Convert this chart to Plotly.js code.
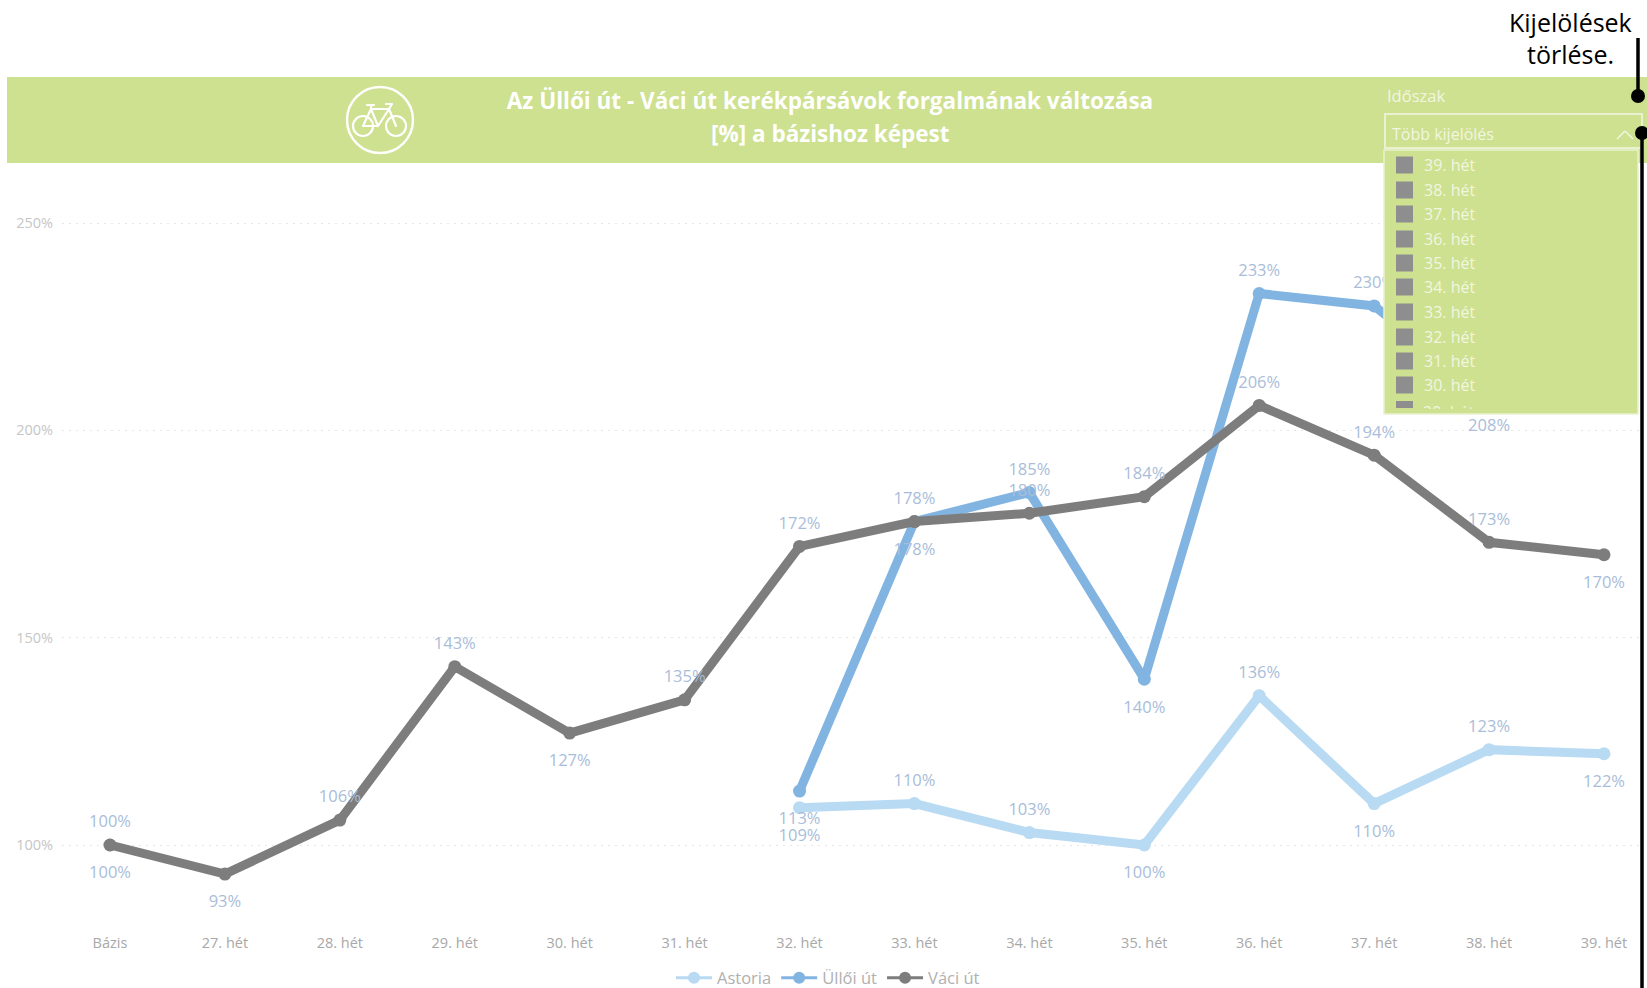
<!DOCTYPE html>
<html><head><meta charset="utf-8">
<script src="https://cdn.plot.ly/plotly-3.0.1.min.js"></script>
<style>html,body{margin:0;padding:0;background:#fff}#c{width:1647px;height:988px}</style>
</head><body><div id="c"></div>
<script>
const categories = ['Bázis','27. hét','28. hét','29. hét','30. hét','31. hét','32. hét','33. hét','34. hét','35. hét','36. hét','37. hét','38. hét','39. hét'];
const astoria = [100,null,null,null,null,null,109,110,103,100,136,110,123,122];
const ulloi   = [null,null,null,null,null,null,113,178,185,140,233,230,208,null];
const vaci    = [100,93,106,143,127,135,172,178,180,184,206,194,173,170];
const astoriaPos = ['b','','','','','','b','t','t','b','t','b','t','b'];
const ulloiPos   = ['','','','','','','b','t','t','b','t','t','b',''];
const vaciPos    = ['t','b','t','t','b','t','t','b','t','t','t','t','t','b'];
const weeks = ['39. hét','38. hét','37. hét','36. hét','35. hét','34. hét','33. hét','32. hét','31. hét','30. hét'];
const weekCenters = [165,190,214,239,263,287,312,337,361,385];

const W=1647,H=988,L=62,R=7,T=180,B=63;
const X=p=>(p-L)/(W-L-R), Y=p=>1-(p-T)/(H-T-B);
const pxPerCat=(1604-110)/13, pxPerPct=(845-223)/150;
const xRange=[(L-110)/pxPerCat,(W-R-110)/pxPerCat];
const yRange=[100-((H-B)-845)/pxPerPct,250+(223-T)/pxPerPct];

const FONT='"Open Sans", sans-serif';
const GREEN='#cde190', LBL='#a9bdd9', PANELTXT='#f2f6e0';
const colors={a:'#b8daf3',u:'#82b4e2',v:'#7d7d7d'};

function lineTrace(name,ys,c){return {type:'scatter',mode:'lines+markers',name,x:categories,y:ys,showlegend:false,
  line:{color:c,width:9},marker:{color:c,size:13},connectgaps:false,hoverinfo:'skip'};}
function legendTrace(name,c){return {type:'scatter',mode:'lines+markers',name,x:categories,y:categories.map(()=>null),
  line:{color:c,width:3},marker:{color:c,size:12},hoverinfo:'skip'};}
function labelTrace(ys,pos){
  const xs=[],yy=[],tx=[],tp=[],sz=[];
  ys.forEach((v,i)=>{ if(v!==null&&pos[i]){xs.push(categories[i]);yy.push(v);tx.push(v+'%');
    tp.push(pos[i]==='t'?'top center':'bottom center');sz.push(pos[i]==='t'?20:32);}});
  return {type:'scatter',mode:'markers+text',x:xs,y:yy,text:tx,textposition:tp,showlegend:false,hoverinfo:'skip',
    marker:{size:sz,opacity:0},textfont:{family:FONT,size:16.5,color:LBL},cliponaxis:false};
}
const data=[legendTrace('Astoria',colors.a),legendTrace('Üllői út',colors.u),legendTrace('Váci út',colors.v),
  lineTrace('Astoria',astoria,colors.a),lineTrace('Üllői út',ulloi,colors.u),lineTrace('Váci út',vaci,colors.v),
  labelTrace(astoria,astoriaPos),labelTrace(ulloi,ulloiPos),labelTrace(vaci,vaciPos)];

function rect(x0,y0,x1,y1,fill,line,w,layer){return {type:'rect',layer:layer||'above',xref:'paper',yref:'paper',x0:X(x0),x1:X(x1),y0:Y(y0),y1:Y(y1),
  fillcolor:fill,line:{color:line||'rgba(0,0,0,0)',width:w||0}};}
function seg(x0,y0,x1,y1,c,w){return {type:'line',layer:'above',xref:'paper',yref:'paper',x0:X(x0),x1:X(x1),y0:Y(y0),y1:Y(y1),line:{color:c,width:w}};}
function dot(cx,cy,r){return {type:'circle',layer:'above',xref:'paper',yref:'paper',x0:X(cx-r),x1:X(cx+r),y0:Y(cy-r),y1:Y(cy+r),fillcolor:'#000',line:{width:0}};}

const shapes=[
  rect(7,77,1647,163,GREEN,null,0,'below'),
  rect(1384,150,1638,414,GREEN,'#e9f1cf',1.5),
  rect(1385,114,1642,148,GREEN,'#e9f1cf',2),
  seg(1617,139,1625,131,PANELTXT,1.5), seg(1625,131,1633,139,PANELTXT,1.5),
  rect(1396,401,1413,408,'#8e8e8e'),
  seg(1638,38,1638,96,'#000',3.5), dot(1638,96,7),
  seg(1642,133,1642,988,'#000',3.5), dot(1642,133,7)
];
weekCenters.forEach(c=>shapes.splice(shapes.length-4,0,rect(1396,c-8.5,1413,c+8.5,'#8e8e8e')));

function note(text,px,py,size,color,anchor,extra){return Object.assign({xref:'paper',yref:'paper',x:X(px),y:Y(py),text,showarrow:false,
  xanchor:anchor||'left',yanchor:'middle',font:{family:FONT,size,color}},extra||{});}
const annotations=[
  note('Kijelölések',1570,22,25,'#000','center'),
  note('törlése.',1570,54,25,'#000','center'),
  note('Időszak',1385,95,16.5,PANELTXT),
  note('Több kijelölés',1390,134,16,PANELTXT),
  note('<b>[%] a bázishoz képest</b>',830,133,22.5,'#fff','center')
];
weeks.forEach((w,i)=>annotations.push(note(w,1422,weekCenters[i],16,PANELTXT)));
annotations.push(note('29. hét',1422,400,16,PANELTXT,'left',{yanchor:'top',height:8,valign:'top',borderpad:0}));

const bike=`<svg xmlns="http://www.w3.org/2000/svg" viewBox="0 0 70 70"><g fill="none" stroke="#fff" stroke-linecap="round" stroke-linejoin="round"><circle cx="35" cy="35" r="33" stroke-width="2.4"/><circle cx="18" cy="41" r="10" stroke-width="2.2"/><circle cx="51" cy="41" r="10" stroke-width="2.2"/><path stroke-width="2.2" d="M18 41 L26 24 L44 24 L33 41 L18 41 M26 24 L33 41 M44 24 L51 41 M22 20 L29 20 M26 20 L26 24 M41 19 L47 19 L44 24"/></g></svg>`;
const images=[{source:'data:image/svg+xml;utf8,'+encodeURIComponent(bike),xref:'paper',yref:'paper',
  x:X(345),y:Y(85),sizex:X(415)-X(345),sizey:Y(85)-Y(155),xanchor:'left',yanchor:'top',layer:'above',sizing:'stretch'}];

const layout={width:W,height:H,margin:{l:L,r:R,t:T,b:B,pad:0},paper_bgcolor:'#fff',plot_bgcolor:'#fff',
  font:{family:FONT},
  title:{text:'<b>Az Üllői út - Váci út kerékpársávok forgalmának változása</b>',
    x:830/W,xanchor:'center',xref:'container',y:1-101/H,yanchor:'middle',yref:'container',font:{family:FONT,size:22.5,color:'#fff'}},
  xaxis:{type:'category',categoryorder:'array',categoryarray:categories,range:xRange,dtick:1,showgrid:false,zeroline:false,showline:false,ticks:'',
    tickfont:{family:FONT,size:14.5,color:'#a8a8a8'},ticklabelstandoff:7},
  yaxis:{range:yRange,tickvals:[100,150,200,250],ticktext:['100%','150%','200%','250%'],showgrid:true,griddash:'1.5px,5.5px',gridcolor:'#e6e6e6',gridwidth:1,
    zeroline:false,showline:false,ticks:'',tickfont:{family:FONT,size:14.5,color:'#c6c6c6'},ticklabelstandoff:8},
  legend:{orientation:'h',xref:'container',yref:'container',xanchor:'center',x:828/W,yanchor:'middle',y:1-978/H,bgcolor:'rgba(0,0,0,0)',
    font:{family:FONT,size:16.5,color:'#b0b0b0'},itemwidth:36,tracegroupgap:0},
  shapes,annotations,images,showlegend:true,hovermode:false
};
Plotly.newPlot('c',data,layout,{displayModeBar:false,responsive:false});
</script></body></html>
